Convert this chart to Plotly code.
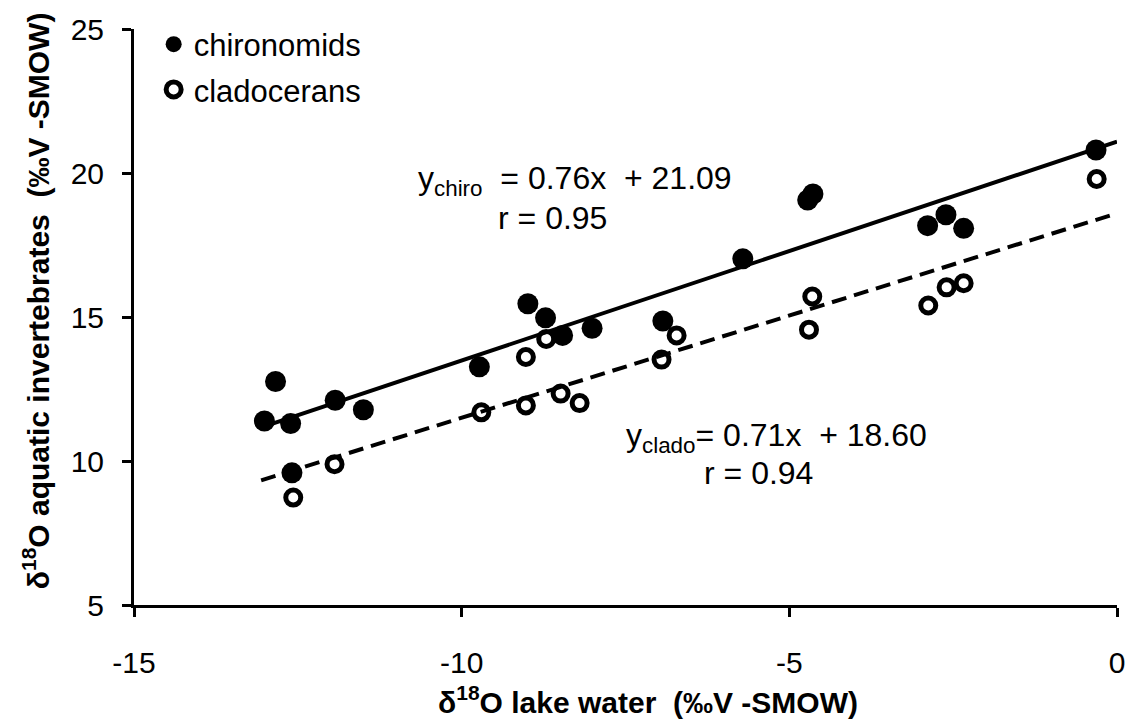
import plotly.graph_objects as go
import numpy as np

# Data
chiro_x = [-13.01, -12.84, -12.61, -12.59, -11.93, -11.50, -9.73, -8.99, -8.72, -8.46,
           -8.01, -6.93, -5.71, -4.72, -4.64, -2.89, -2.61, -2.34, -0.32]
chiro_y = [11.39, 12.76, 11.30, 9.59, 12.11, 11.78, 13.27, 15.46, 14.97, 14.36,
           14.61, 14.86, 17.02, 19.06, 19.27, 18.17, 18.55, 18.08, 20.80]

clado_x = [-12.57, -11.94, -9.70, -9.02, -9.02, -8.71, -8.49, -8.20, -6.95, -6.72,
           -4.65, -4.70, -2.88, -2.60, -2.34, -0.31]
clado_y = [8.73, 9.89, 11.69, 13.61, 11.93, 14.24, 12.34, 12.01, 13.52, 14.36,
           15.71, 14.56, 15.40, 16.03, 16.17, 19.79]

chiro_slope, chiro_int = 0.76, 21.09
clado_slope, clado_int = 0.71, 18.60
chiro_fit_x = [-13.0, 0.0]
clado_fit_x = [-13.06, -0.08]

x_ticks = [-15, -10, -5, 0]
y_ticks = [5, 10, 15, 20, 25]

FONT = "Liberation Sans, Arial, sans-serif"

fig = go.Figure()

fig.add_trace(go.Scatter(
    x=chiro_x, y=chiro_y, mode="markers", name="chironomids",
    legendgroup="a",
    marker=dict(symbol="circle", size=21, color="black", line=dict(width=0))))
fig.add_trace(go.Scatter(
    x=clado_x, y=clado_y, mode="markers", name="cladocerans",
    legendgroup="b",
    marker=dict(symbol="circle", size=15, color="white", line=dict(width=5, color="black"))))

fx = np.array(chiro_fit_x)
fig.add_trace(go.Scatter(x=fx, y=chiro_slope * fx + chiro_int, mode="lines",
                         line=dict(color="black", width=4), showlegend=False, hoverinfo="skip"))
gx = np.array(clado_fit_x)
fig.add_trace(go.Scatter(x=gx, y=clado_slope * gx + clado_int, mode="lines",
                         line=dict(color="black", width=4, dash="15px,8px"),
                         showlegend=False, hoverinfo="skip"))

ann_font = dict(family=FONT, size=32, color="black")
fig.add_annotation(x=-10.69, y=19.73, xref="x", yref="y", xanchor="left", yanchor="middle",
                   text="y<sub>chiro</sub>  = 0.76x  + 21.09", showarrow=False, font=ann_font)
fig.add_annotation(x=-9.48, y=18.45, xref="x", yref="y", xanchor="left", yanchor="middle",
                   text="r = 0.95", showarrow=False, font=ann_font)
fig.add_annotation(x=-7.52, y=10.82, xref="x", yref="y", xanchor="left", yanchor="middle",
                   text="y<sub>clado</sub>= 0.71x  + 18.60", showarrow=False, font=ann_font)
fig.add_annotation(x=-6.34, y=9.58, xref="x", yref="y", xanchor="left", yanchor="middle",
                   text="r = 0.94", showarrow=False, font=ann_font)

# axis titles as annotations (positioned like the reference)
title_font = dict(family=FONT, size=30, color="black")
fig.add_annotation(x=0.523, y=700, xref="paper", yref="paper", yanchor="middle",
                   text="<b>δ<sup>18</sup>O lake water  (‰V -SMOW)</b>", showarrow=False,
                   font=title_font)
fig.add_annotation(x=-0.1, y=0.5286, xref="paper", yref="paper", xanchor="center",
                   yanchor="middle", textangle=-90,
                   text="<b>δ<sup>18</sup>O aquatic invertebrates  (‰V -SMOW)</b>",
                   showarrow=False, font=title_font)

fig.update_layout(
    width=1137, height=720,
    margin=dict(l=134, r=14, t=28, b=115),
    paper_bgcolor="white", plot_bgcolor="white",
    font=dict(family=FONT, color="black"),
    showlegend=True,
    legend=dict(x=0.02, y=1.02, xanchor="left", yanchor="top",
                font=dict(family=FONT, size=31, color="black"),
                bgcolor="rgba(0,0,0,0)", traceorder="grouped", tracegroupgap=2,
                itemsizing="trace"),
    xaxis=dict(range=[-15, 0], tickvals=x_ticks, ticktext=[str(v) for v in x_ticks],
               showgrid=False, zeroline=False, showline=True, linecolor="black", linewidth=3,
               ticks="outside", ticklen=9, tickwidth=3, tickcolor="black",
               tickfont=dict(family=FONT, size=30, color="black"),
               ticklabelstandoff=20),
    yaxis=dict(range=[5, 25], tickvals=y_ticks, ticktext=[str(v) for v in y_ticks],
               showgrid=False, zeroline=False, showline=True, linecolor="black", linewidth=3,
               ticks="outside", ticklen=9, tickwidth=3, tickcolor="black",
               tickfont=dict(family=FONT, size=30, color="black"),
               ticklabelstandoff=12),
)
# place x title annotation in paper coords computed from pixel target
fig.layout.annotations[-2].y = (605 - 700) / 577.0

fig.write_html("out.html")
